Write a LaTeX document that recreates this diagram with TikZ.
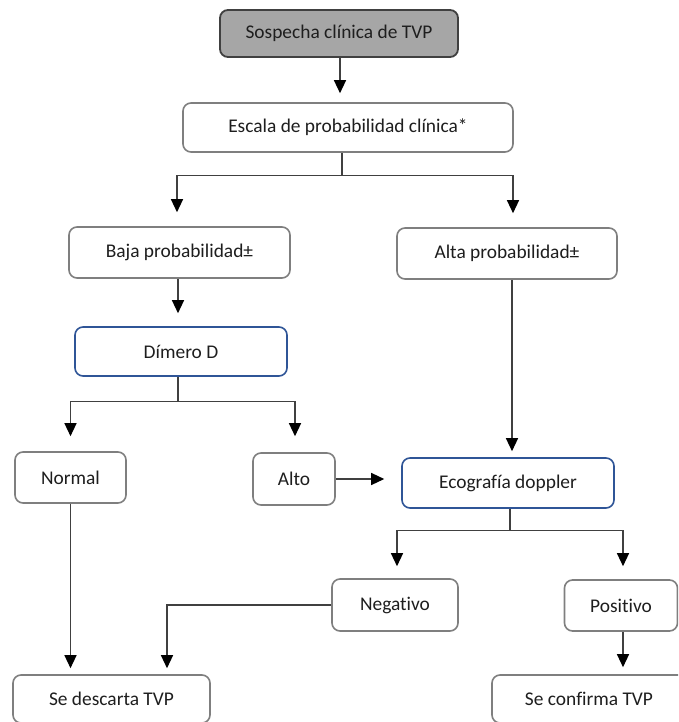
\documentclass[tikz,border=0pt]{standalone}
\usepackage{fontspec}
\setmainfont{Carlito}[Ligatures=NoCommon]
\usetikzlibrary{arrows.meta}
\definecolor{edge}{HTML}{7F7F7F}
\definecolor{blueedge}{HTML}{2F5597}
\definecolor{ink}{HTML}{1E1E1E}
\definecolor{lead}{HTML}{404040}
\definecolor{headfill}{HTML}{A6A6A6}
\tikzset{
  box/.style={draw=edge, line width=1.6pt, rounded corners=8pt, fill=white,
    text=ink, inner sep=0pt, font=\fontsize{19.4}{23}\selectfont},
  bluebox/.style={box, draw=blueedge},
  headbox/.style={box, draw=lead, fill=headfill, line width=1.8pt},
  link/.style={draw=lead, line width=1.3pt},
  arr/.style={link, -{Triangle[width=12pt,length=13pt,fill=black,color=black]}},
}
\begin{document}
\begin{tikzpicture}[x=1pt,y=-1pt]
\clip (0,0) rectangle (678,722);
% boxes
\node[headbox, minimum width=238pt, minimum height=47pt] (sosp) at (339,33.5) {Sospecha clínica de TVP};
\node[box, minimum width=330pt, minimum height=49pt] (escala) at (348,127.5) {Escala de probabilidad clínica*};
\node[box, minimum width=221pt, minimum height=51pt] (baja) at (179.5,252.5) {Baja probabilidad±};
\node[box, minimum width=220pt, minimum height=51pt] (alta) at (507,253.5) {Alta probabilidad±};
\node[bluebox, minimum width=212pt, minimum height=49pt] (dimero) at (181,351.5) {Dímero D};
\node[box, minimum width=111pt, minimum height=51pt] (normal) at (70.5,477.5) {Normal};
\node[box, minimum width=82pt, minimum height=52pt] (alto) at (294,479) {Alto};
\node[bluebox, minimum width=212pt, minimum height=50pt] (eco) at (508,483) {Ecografía doppler};
\node[box, minimum width=126pt, minimum height=52pt] (neg) at (395,605) {Negativo};
\node[box, minimum width=113pt, minimum height=51pt] (pos) at (621,605.5) {Positivo};
\node[box, minimum width=197pt, minimum height=48pt] (desc) at (111.5,699) {Se descarta TVP};
\node[box, minimum width=194pt, minimum height=48pt] (conf) at (589,699) {Se confirma TVP};
% connectors
\draw[arr, shorten >=9pt] ([xshift=1pt]sosp.south) -- ([xshift=1pt]sosp.south |- escala.north);
\draw[link] ([xshift=-6pt]escala.south) -- ++(0,23) coordinate (s1);
\draw[arr, shorten >=14pt] (s1) -| ([xshift=-2.5pt]baja.north);
\draw[arr, shorten >=14pt] (s1) -| ([xshift=6pt]alta.north);
\draw[arr, shorten >=13pt] ([xshift=-1.5pt]baja.south) -- ([xshift=-1.5pt]baja.south |- dimero.north);
\draw[link] ([xshift=-3pt]dimero.south) -- ++(0,25) coordinate (s2);
\draw[arr, shorten >=15pt] (s2) -| (normal.north);
\draw[arr, shorten >=16pt] (s2) -| ([xshift=1pt]alto.north);
\draw[arr, shorten >=17pt] (alto.east) -- (alto.east -| eco.west);
\draw[arr, shorten >=6pt] ([xshift=5pt]alta.south) -- ([xshift=5pt]alta.south |- eco.north);
\draw[link] ([xshift=2pt]eco.south) -- ++(0,22) coordinate (s3);
\draw[arr, shorten >=12pt] (s3) -| ([xshift=2pt]neg.north);
\draw[arr, shorten >=13pt] (s3) -| ([xshift=2pt]pos.north);
\draw[arr, shorten >=6pt] (neg.west) -| ([xshift=55.5pt]desc.north);
\draw[arr, shorten >=6pt] (normal.south) -- (normal.south |- desc.north);
\draw[arr, shorten >=7pt] ([xshift=2pt]pos.south) -- ([xshift=2pt]pos.south |- conf.north);
\end{tikzpicture}
\end{document}
